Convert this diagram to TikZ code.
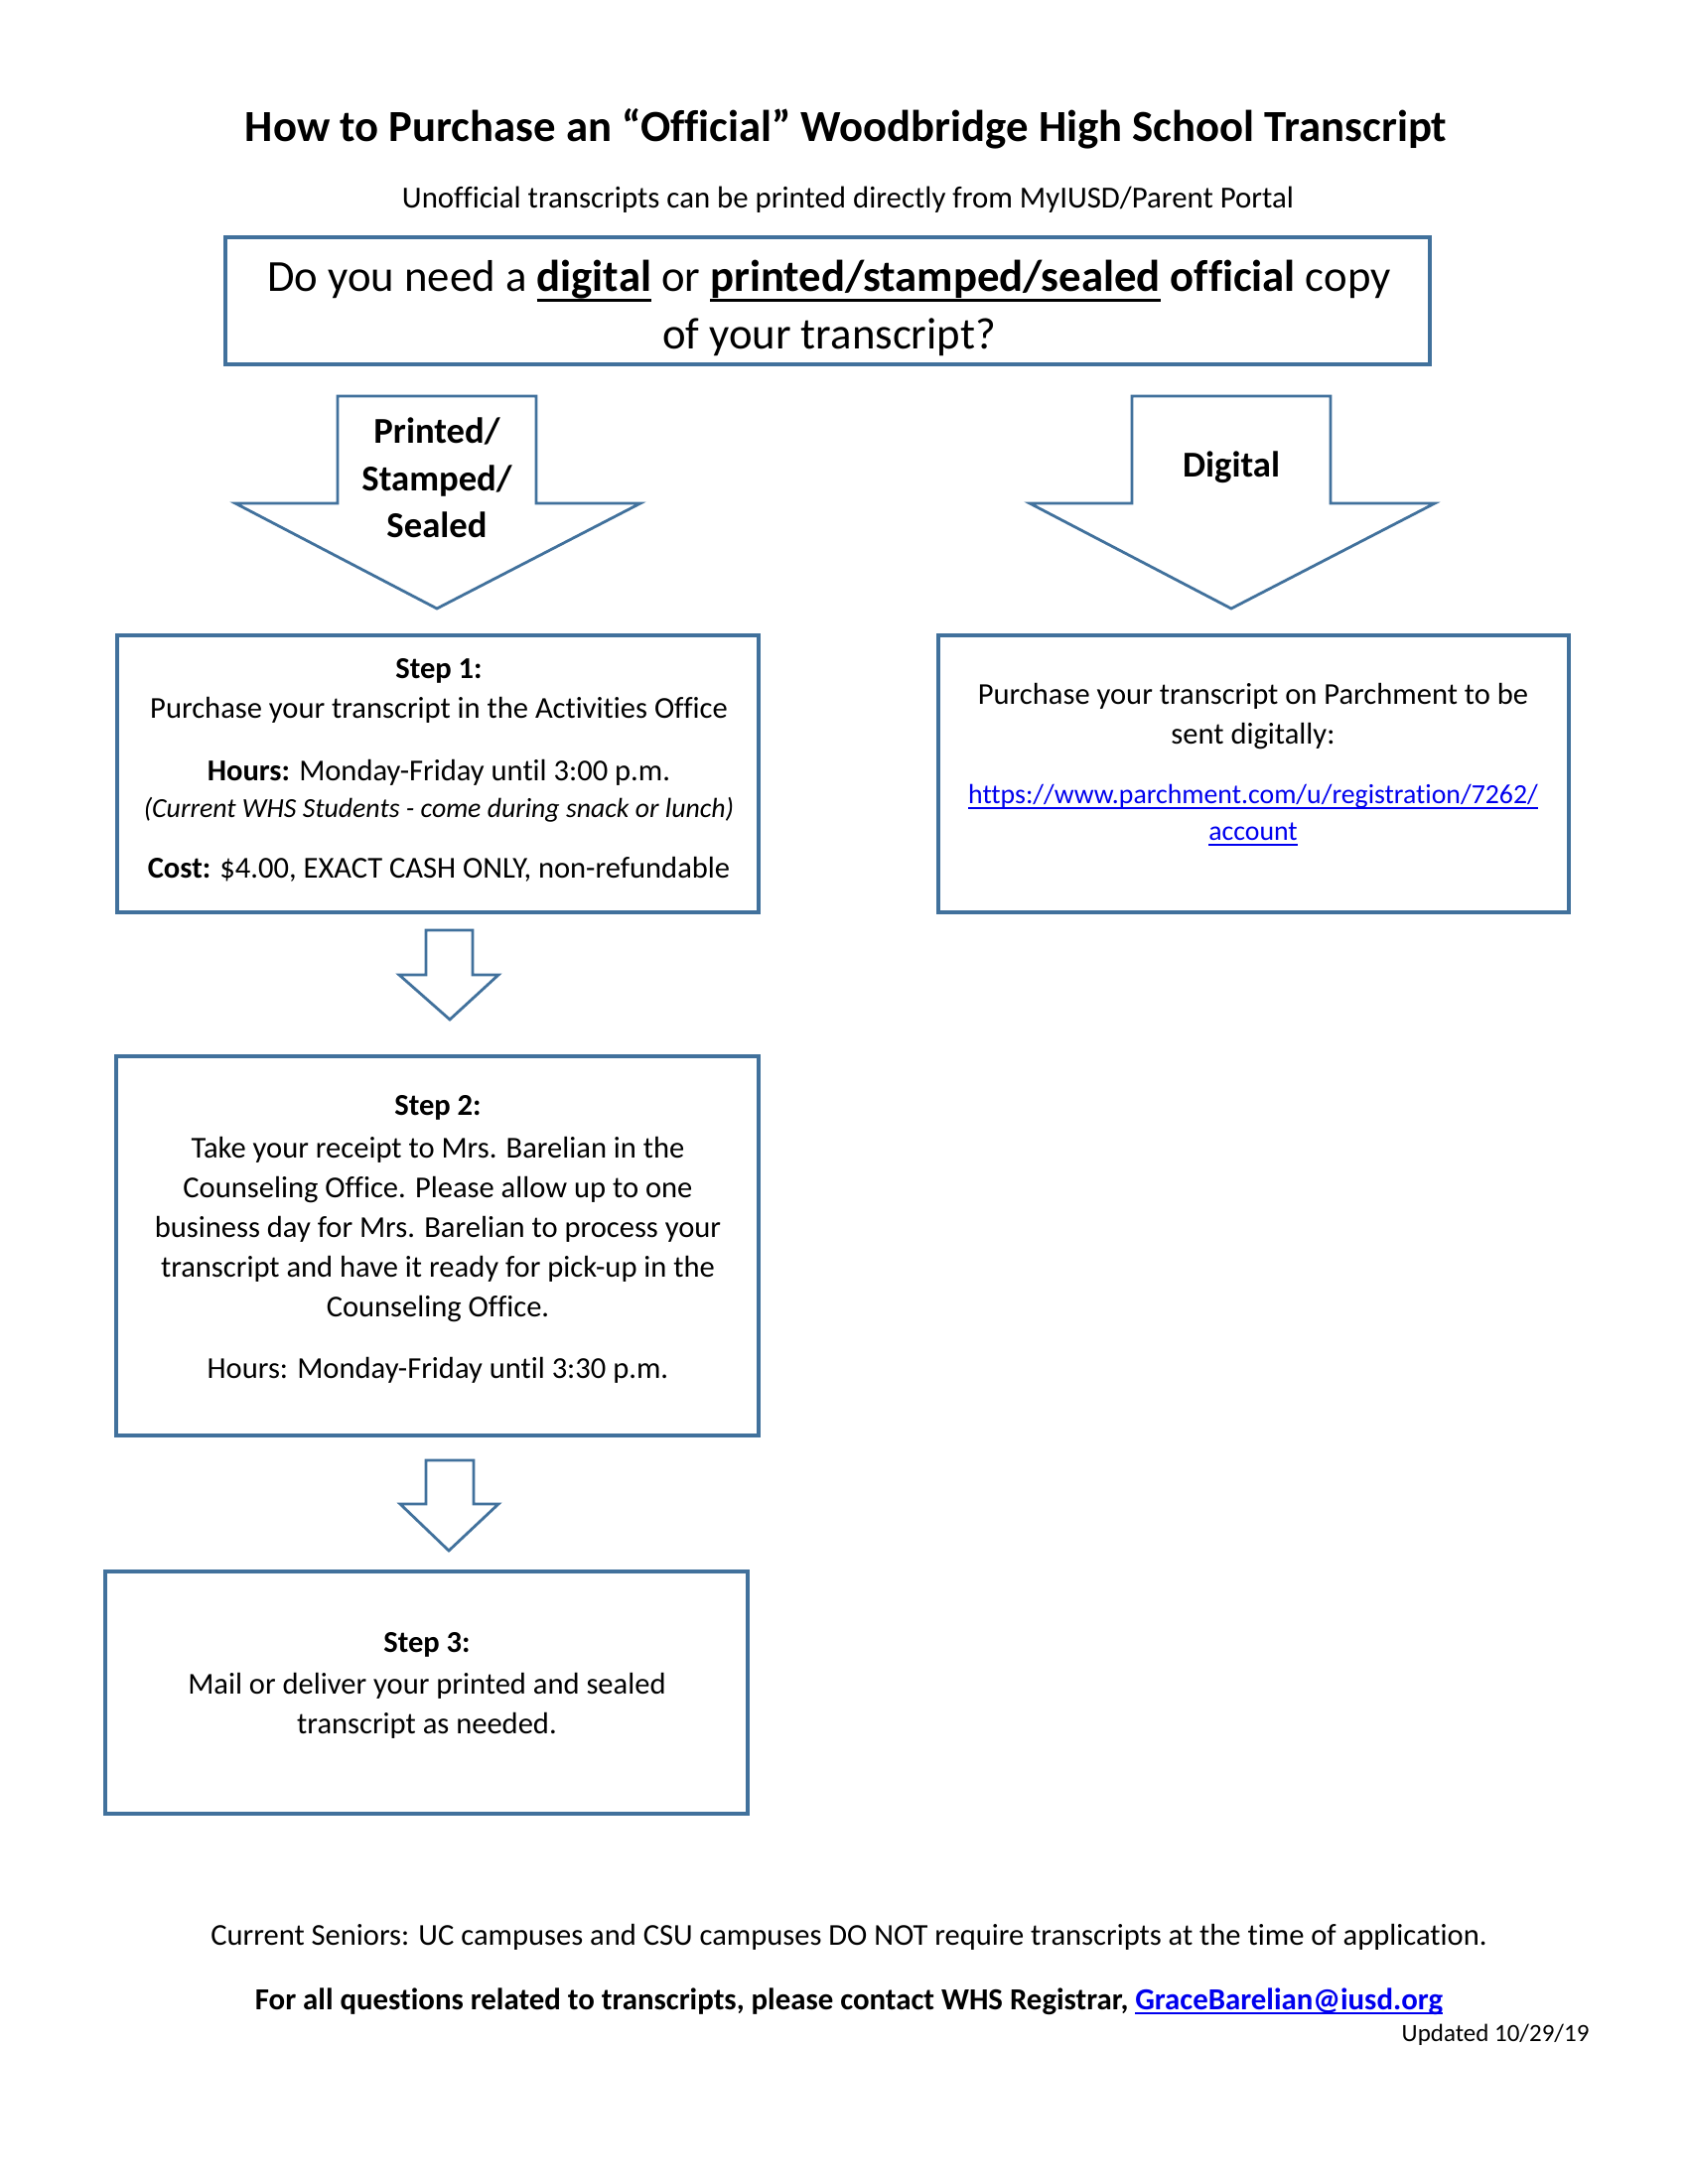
\documentclass[tikz,border=0pt]{standalone}
\usepackage{fontspec}
\setmainfont{Carlito}[Ligatures=NoCommon]
\usetikzlibrary{fit}
\definecolor{bx}{RGB}{65,113,156}
\definecolor{lk}{RGB}{0,0,238}
\newcommand\qul[1]{\begingroup\setbox0\hbox{#1}\rlap{\rule[-3.8pt]{\wd0}{1.15pt}}\box0\endgroup}
\newcommand\lul[1]{\begingroup\setbox0\hbox{#1}\rlap{\rule[-1.8pt]{\wd0}{0.55pt}}\box0\endgroup}
\newcommand\stepfont{\fontsize{11}{14.4}\selectfont}
\newcommand\smallit{\fontsize{10}{14.4}\selectfont\itshape}
\begin{document}
\begin{tikzpicture}[x=0.36pt,y=-0.36pt,
  box/.style={draw=bx,line width=1.1pt,inner sep=0pt,rectangle},
  blk/.style={draw=bx,line width=1pt,line join=miter,fill=white},
  txt/.style={inner sep=0pt,align=center,anchor=north},
  one/.style={inner sep=0pt,anchor=base}]
\fill[white] (0,0) rectangle (1700,2200);
\useasboundingbox (0,0) rectangle (1700,2200);

\node[one,font=\fontsize{16.1}{19}\selectfont\bfseries] (title) at (852,143) {How to Purchase an “Official” Woodbridge High School Transcript};
\node[one,font=\fontsize{11.1}{13}\selectfont] (sub) at (854,210) {Unofficial transcripts can be printed directly from MyIUSD/Parent Portal};

\node[box,fit={(227,239)(1440,367)}] (q) {};
\node[txt,font=\fontsize{16.1}{20.9}\selectfont] (qt) at (835,252.4) {\strut Do you need a \qul{\textbf{digital}} or \qul{\textbf{printed/stamped/sealed}} \textbf{official} copy\\ of your transcript?};

% big arrows
\draw[blk] (340,399) -- (540,399) -- (540,507) -- (645,507) -- (440,613) -- (237,507) -- (340,507) -- cycle;
\draw[blk] (1140,399) -- (1340,399) -- (1340,507) -- (1445,507) -- (1240,613) -- (1037,507) -- (1140,507) -- cycle;
\node[txt,font=\fontsize{13.2}{17.1}\selectfont\bfseries] (pl) at (440,413) {\strut Printed/\\Stamped/\\Sealed};
\node[one,font=\fontsize{13.2}{17}\selectfont\bfseries] (dl) at (1240,480) {Digital};

% boxes
\node[box,fit={(118,640)(764,919)}] (s1) {};
\node[box,fit={(945,640)(1580,919)}] (dg) {};
\node[box,fit={(117,1064)(764,1446)}] (s2) {};
\node[box,fit={(106,1583)(753,1827)}] (s3) {};

\node[txt,font=\stepfont] (s1t) at (442,655) {\strut\textbf{Step 1:}\\ Purchase your transcript in the Activities Office\\[8.3pt] \textbf{Hours:} Monday-Friday until 3:00 p.m.\\[-1.1pt] {\smallit (Current WHS Students - come during snack or lunch)}\\[7.6pt] \textbf{Cost:} \$4.00, EXACT CASH ONLY, non-refundable};

\node[txt,font=\stepfont] (dgt) at (1262,681) {\strut Purchase your transcript on Parchment to be\\ sent digitally:\\[7.2pt] {\fontsize{10}{14.4}\selectfont\textcolor{lk}{\lul{https://www.parchment.com/u/registration/7262/}}}\\[-1.1pt] {\fontsize{10}{14.4}\selectfont\textcolor{lk}{\lul{account}}}};

\node[txt,font=\stepfont] (s2t) at (441,1095) {\strut\textbf{Step 2:}\\[1.1pt] Take your receipt to Mrs. Barelian in the\\ Counseling Office. Please allow up to one\\ business day for Mrs. Barelian to process your\\ transcript and have it ready for pick-up in the\\ Counseling Office.\\[7.9pt] Hours: Monday-Friday until 3:30 p.m.};

\node[txt,font=\stepfont] (s3t) at (430,1636) {\strut\textbf{Step 3:}\\[0.7pt] Mail or deliver your printed and sealed\\ transcript as needed.};

% small arrows
\draw[blk] (429,937) -- (476,937) -- (476,982) -- (502,982) -- (453,1027) -- (402,982) -- (429,982) -- cycle;
\draw[blk] (429,1471) -- (477,1471) -- (477,1515) -- (502,1515) -- (452,1562) -- (403,1515) -- (429,1515) -- cycle;

% footer
\node[one,font=\stepfont] (f1) at (855,1959) {Current Seniors: UC campuses and CSU campuses DO NOT require transcripts at the time of application.};
\node[one,font=\fontsize{11.1}{14.4}\selectfont\bfseries] (f2) at (855,2024) {For all questions related to transcripts, please contact WHS Registrar, \textcolor{lk}{\lul{GraceBarelian@iusd.org}}};
\node[inner sep=0pt,anchor=base east,font=\fontsize{9}{10}\selectfont] (f3) at (1601,2056) {Updated 10/29/19};
\end{tikzpicture}
\end{document}
